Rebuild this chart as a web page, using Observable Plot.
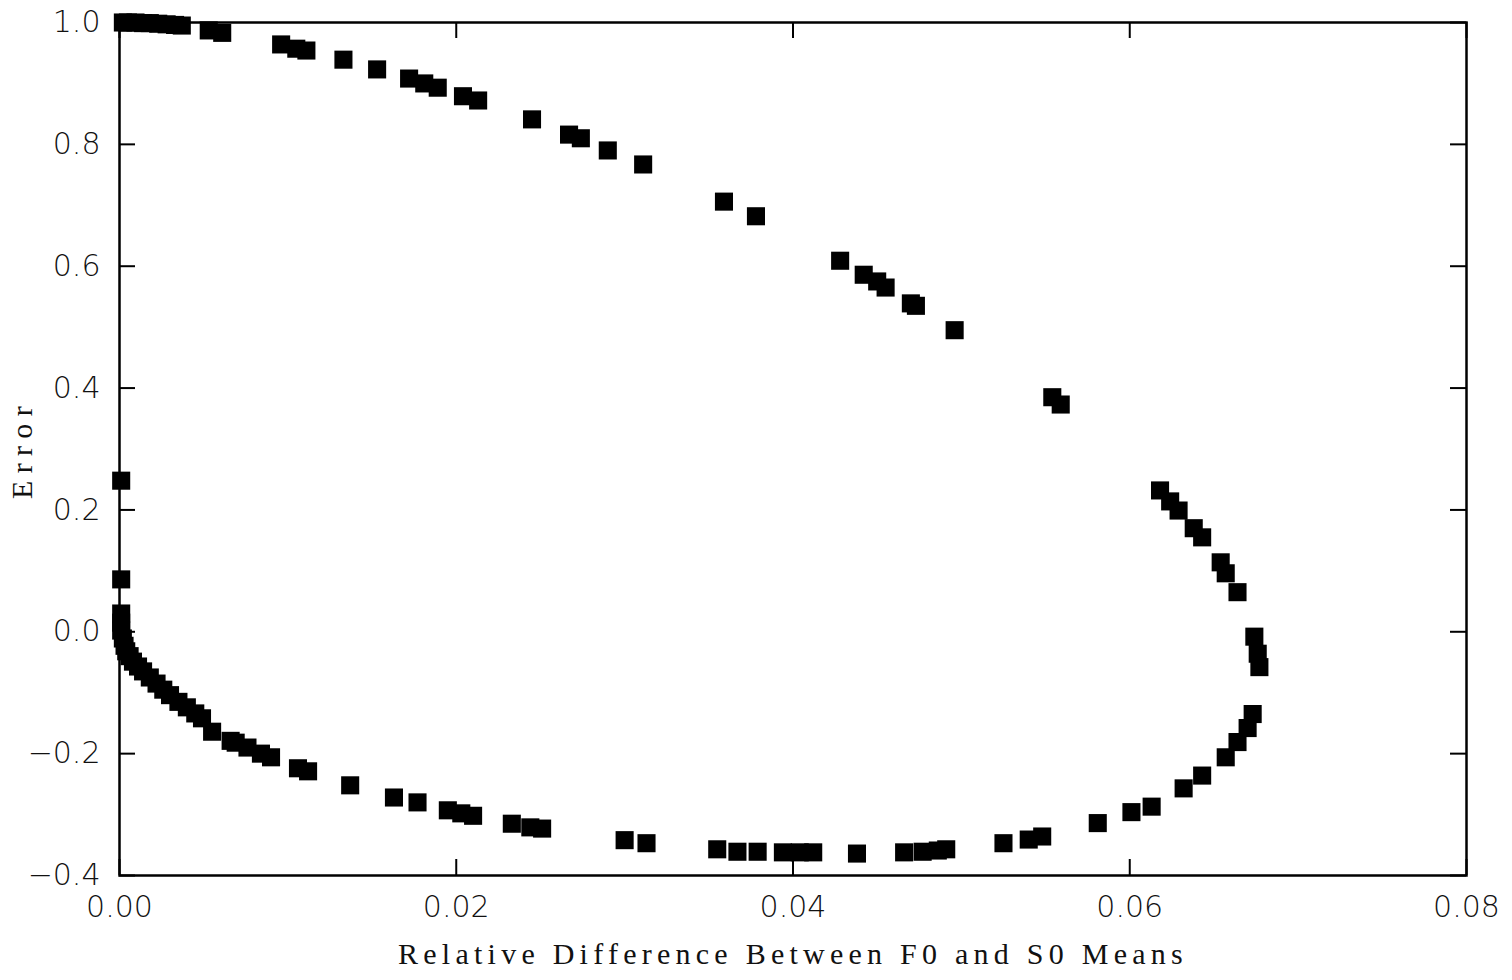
<!DOCTYPE html>
<html>
<head>
<meta charset="utf-8">
<script src="https://cdn.jsdelivr.net/npm/d3@7"></script>
<script src="https://cdn.jsdelivr.net/npm/@observablehq/plot@0.6"></script>
<style>
  html, body { margin: 0; padding: 0; background: #fff; }
</style>
</head>
<body>
<div id="chart"></div>
<script>
// Relative difference between F0 and S0 means (x)
const relDiff = [
  0.0002, 0.0005, 0.00095, 0.0014, 0.0018, 0.0023, 0.0028, 0.0033, 0.0037,
  0.0053, 0.0061, 0.0096, 0.0105, 0.0111, 0.0133, 0.0153, 0.0172, 0.0181,
  0.0189, 0.0204, 0.0213, 0.0245, 0.0267, 0.0274, 0.0290, 0.0311, 0.0359,
  0.0378, 0.0428, 0.0442, 0.0450, 0.0455, 0.0470, 0.0473, 0.0496, 0.0554,
  0.0559, 0.0618, 0.0624, 0.0629, 0.0638, 0.0643, 0.0654, 0.0657, 0.0664,
  0.0674, 0.0676, 0.0677, 0.0673, 0.0670, 0.0664, 0.0657, 0.0643, 0.0632,
  0.0613, 0.0601, 0.0581, 0.0548, 0.0540, 0.0525, 0.0491, 0.0486, 0.0477,
  0.0466, 0.0438, 0.0412, 0.0404, 0.0394, 0.0379, 0.0367, 0.0355, 0.0313,
  0.0300, 0.0251, 0.0244, 0.0233, 0.0210, 0.0203, 0.0195, 0.0177, 0.0163,
  0.0137, 0.0112, 0.0106, 0.0090, 0.0084, 0.0076, 0.0069, 0.0066, 0.0055,
  0.0049, 0.0045, 0.0040, 0.0035, 0.0030, 0.0026, 0.0022, 0.0018, 0.0014,
  0.0011, 0.0008, 0.0006, 0.0004, 0.0003, 0.0002, 0.0001, 0.0001, 0.0001,
  0.0001, 0.0001
];
// Error (y)
const errorValues = [
  1.000, 1.000, 1.000, 0.999, 0.999, 0.998, 0.997, 0.996, 0.995,
  0.987, 0.983, 0.964, 0.957, 0.954, 0.939, 0.923, 0.908, 0.900,
  0.893, 0.879, 0.872, 0.841, 0.816, 0.810, 0.790, 0.767, 0.706,
  0.682, 0.609, 0.586, 0.575, 0.565, 0.539, 0.535, 0.495, 0.385,
  0.373, 0.232, 0.214, 0.199, 0.170, 0.155, 0.114, 0.096, 0.065,
  -0.008, -0.036, -0.058, -0.135, -0.158, -0.181, -0.206, -0.236, -0.257,
  -0.287, -0.296, -0.314, -0.336, -0.341, -0.347, -0.357, -0.359, -0.361,
  -0.362, -0.364, -0.362, -0.362, -0.362, -0.361, -0.361, -0.357, -0.347,
  -0.342, -0.323, -0.321, -0.315, -0.302, -0.298, -0.293, -0.280, -0.272,
  -0.252, -0.229, -0.224, -0.206, -0.200, -0.190, -0.182, -0.179, -0.164,
  -0.142, -0.134, -0.124, -0.115, -0.104, -0.095, -0.085, -0.075, -0.065,
  -0.057, -0.049, -0.040, -0.032, -0.023, -0.011, 0.002, 0.015, 0.030,
  0.086, 0.248
];
const xTicks = [0.00, 0.02, 0.04, 0.06, 0.08];
const yTicks = [-0.4, -0.2, 0.0, 0.2, 0.4, 0.6, 0.8, 1.0];
const xLabel = "Relative Difference Between F0 and S0 Means";
const yLabel = "Error";

const points = relDiff.map((x, i) => ({x, y: errorValues[i]}));

const W = 1512, H = 980;
const mL = 119, mR = 46, mT = 22, mB = 105;
const plotW = W - mL - mR, plotH = H - mT - mB;
const tickLen = 16;
const tickFont = "'DejaVu Sans', sans-serif";
const labelFont = "'Liberation Serif', 'DejaVu Serif', serif";

const chart = Plot.plot({
  width: W,
  height: H,
  marginLeft: mL,
  marginRight: mR,
  marginTop: mT,
  marginBottom: mB,
  style: {background: "#fff", color: "#111"},
  x: {domain: [0, 0.08]},
  y: {domain: [-0.4, 1.0]},
  marks: [
    Plot.frame({stroke: "#000", strokeWidth: 2.5}),
    // inward ticks: bottom, top, left, right
    Plot.tickX(xTicks, {x: d => d, insetTop: plotH - tickLen, stroke: "#000", strokeWidth: 2}),
    Plot.tickX(xTicks, {x: d => d, insetBottom: plotH - tickLen, stroke: "#000", strokeWidth: 2}),
    Plot.tickY(yTicks, {y: d => d, insetRight: plotW - tickLen, stroke: "#000", strokeWidth: 2}),
    Plot.tickY(yTicks, {y: d => d, insetLeft: plotW - tickLen, stroke: "#000", strokeWidth: 2}),
    Plot.axisX({ticks: xTicks, tickFormat: ".2f", tickSize: 0, tickPadding: 20, fontSize: 30, fontFamily: tickFont, fontWeight: 200, label: null}),
    Plot.axisY({ticks: yTicks, tickFormat: ".1f", tickSize: 0, tickPadding: 19, fontSize: 30, fontFamily: tickFont, fontWeight: 200, label: null}),
    Plot.text([xLabel], {frameAnchor: "bottom", dy: 79, textAnchor: "middle", lineAnchor: "middle", fontSize: 30, fontFamily: labelFont, fill: "#111", className: "xlab"}),
    Plot.text([yLabel], {frameAnchor: "left", dx: -97, textAnchor: "middle", lineAnchor: "middle", rotate: -90, fontSize: 30, fontFamily: labelFont, fill: "#111", className: "ylab"}),
    Plot.dot(points, {x: "x", y: "y", symbol: "square", r: 10.2, fill: "#000", stroke: "none"})
  ]
});
document.getElementById("chart").appendChild(chart);

// widen the serif axis titles to the typewriter-like spacing of the original
function spread(sel, target) {
  const t = chart.querySelector(sel + " text");
  if (!t) return;
  const n = t.textContent.length;
  const w = t.getComputedTextLength();
  const ls = Math.max(0, (target - w) / n);
  t.setAttribute("letter-spacing", ls.toFixed(2));
}
spread(".xlab", 790);
spread(".ylab", 100);
</script>
</body>
</html>
